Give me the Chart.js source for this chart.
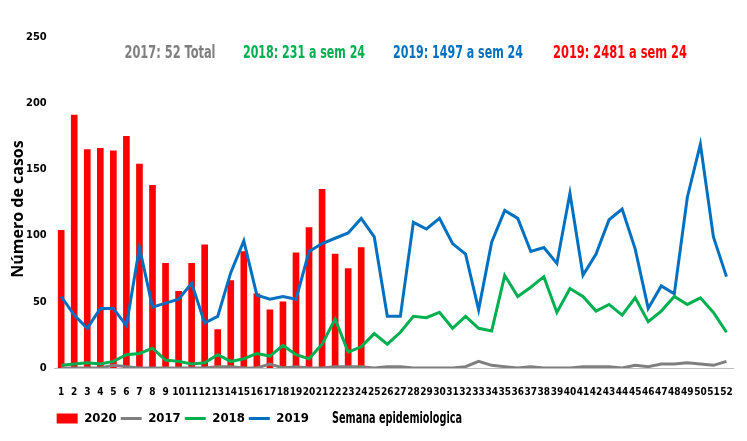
<!DOCTYPE html>
<html>
<head>
<meta charset="utf-8">
<script src="https://cdn.jsdelivr.net/npm/chart.js@4"></script>
<style>
  body{margin:0;background:#fff}
  #wrap{width:747px;height:441px;position:relative}
</style>
</head>
<body>
<div id="wrap"><canvas id="casos" width="747" height="441"></canvas></div>
<script>
const semanas = Array.from({length:52},(_,i)=>String(i+1));
const casos2020 = [104,191,165,166,164,175,154,138,79,58,79,93,29,66,88,56,44,50,87,106,135,86,75,91];
const casos2017 = [0,0,0,0,2,1,0,0,0,0,0,0,1,1,0,0,3,0,1,0,0,1,1,1,0,1,1,0,0,0,0,1,5,2,1,0,1,0,0,0,1,1,1,0,2,1,3,3,4,3,2,5];
const casos2018 = [2,3,4,3,5,10,11,15,6,5,3,4,10,5,7,11,9,17,10,7,18,37,12,16,26,18,27,39,38,42,30,39,30,28,70,54,61,69,42,60,54,43,48,40,53,35,43,54,48,53,42,27];
const casos2019 = [54,40,30,45,45,32,91,46,49,52,64,34,39,72,96,55,52,54,52,88,94,98,102,113,99,39,39,110,105,113,94,86,44,95,119,113,88,91,79,132,70,86,112,120,90,45,62,56,129,169,99,69];
// texto, color, centro x, ancho
const notas = [
  ['2017: 52 Total','#7f7f7f',170,91],
  ['2018: 231 a sem 24','#00b050',304,122],
  ['2019: 1497 a sem 24','#0070c0',458,130],
  ['2019: 2481 a sem 24','#ff0000',620,134]
];
const fuente = "'DejaVu Sans Condensed','Liberation Sans Narrow',sans-serif";

const textos = {
  id:'textos',
  afterLayout(chart){
    // la leyenda arranca debajo del eje, no en el borde
    if(chart.legend) chart.legend.left = chart.chartArea.left - 2;
  },
  afterDraw(chart){
    const {ctx, chartArea} = chart;
    ctx.save();
    ctx.font = "bold 17px " + fuente;
    ctx.textAlign = 'center';
    ctx.textBaseline = 'middle';
    notas.forEach(([t,c,x,w])=>{ ctx.fillStyle = c; ctx.fillText(t, x, chartArea.top + 17, w); });
    ctx.fillStyle = '#000';
    ctx.font = "bold 16px " + fuente;
    ctx.textAlign = 'left';
    ctx.fillText('Semana epidemiologica', 332, 419, 130);
    ctx.translate(18, 209);
    ctx.rotate(-Math.PI/2);
    ctx.textAlign = 'center';
    ctx.font = "bold 16px 'Open Sans', Arial, sans-serif";
    ctx.fillText('Número de casos', 0, 0, 152);
    ctx.restore();
  }
};

new Chart(document.getElementById('casos'), {
  data:{
    labels: semanas,
    datasets:[
      { type:'bar', label:'2020', data:casos2020, backgroundColor:'#ff0000', barThickness:6, order:2 },
      { type:'line', label:'2017', data:casos2017, borderColor:'#7f7f7f', backgroundColor:'#7f7f7f', borderWidth:3, pointRadius:0, tension:0, order:1 },
      { type:'line', label:'2018', data:casos2018, borderColor:'#00b050', backgroundColor:'#00b050', borderWidth:3, pointRadius:0, tension:0, order:1 },
      { type:'line', label:'2019', data:casos2019, borderColor:'#0070c0', backgroundColor:'#0070c0', borderWidth:3, pointRadius:0, tension:0, order:1 }
    ]
  },
  options:{
    responsive:false,
    animation:false,
    layout:{ padding:{ top:37, right:14, left:26, bottom:6 } },
    plugins:{
      tooltip:{ enabled:false },
      legend:{
        position:'bottom', align:'start',
        labels:{
          usePointStyle:true, pointStyleWidth:21, boxHeight:10, padding:4,
          color:'#000', font:{ size:13, weight:'bold', family:fuente },
          generateLabels(chart){
            return chart.data.datasets.map((d,i)=>({
              text:d.label, fillStyle:d.backgroundColor, strokeStyle:d.borderColor,
              lineWidth: d.type==='line' ? 3 : 0, pointStyle: d.type==='line' ? 'line' : 'rect',
              datasetIndex:i, fontColor:'#000'
            }));
          }
        }
      }
    },
    scales:{
      x:{
        grid:{ display:false },
        border:{ color:'#bfbfbf', width:1 },
        ticks:{ autoSkip:false, maxRotation:0, color:'#000', padding:10, font:{ size:10, weight:'bold', family:fuente } }
      },
      y:{
        min:0, max:250,
        grid:{ display:false },
        border:{ display:false },
        ticks:{ stepSize:50, color:'#000', padding:0, font:{ size:11, weight:'bold', family:fuente } }
      }
    }
  },
  plugins:[textos]
});
</script>
</body>
</html>
